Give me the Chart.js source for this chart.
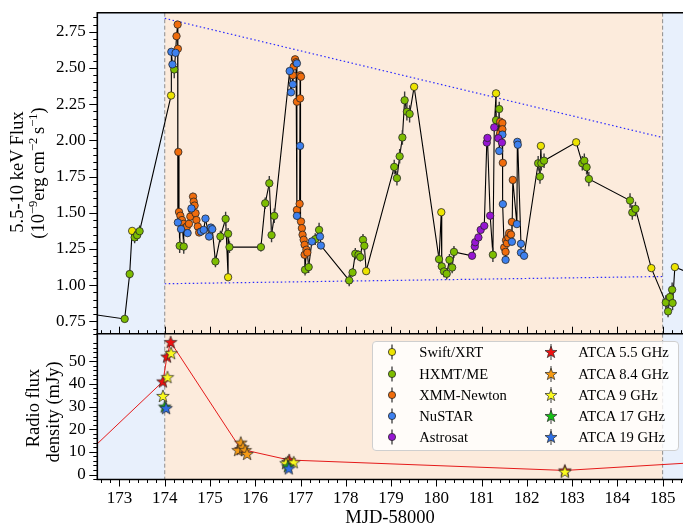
<!DOCTYPE html>
<html><head><meta charset="utf-8">
<script src="https://cdn.jsdelivr.net/npm/chart.js@4.4.1/dist/chart.umd.min.js"></script>
<style>
body{margin:0;background:#fff;}
#wrap{position:relative;width:683px;height:527px;overflow:hidden;font-family:"Liberation Serif","DejaVu Serif",serif;color:#000;}
canvas{position:absolute;left:0;}
#c1{top:0;width:683px;height:336px;}
#c2{top:333px;width:683px;height:194px;}
.yt{position:absolute;white-space:nowrap;transform:translate(-50%,-50%) rotate(-90deg);font-size:18.5px;line-height:1;}
.yt sup{font-size:0.68em;vertical-align:0.5em;line-height:0;}
#xt{position:absolute;left:390px;top:517px;transform:translate(-50%,-50%);font-size:18.5px;white-space:nowrap;}
#legend{position:absolute;left:372px;top:341px;width:305px;height:108px;border:1px solid #cfcfcf;border-radius:4px;background:rgba(255,255,255,0.82);z-index:2;}
.lg{position:absolute;font-size:14.6px;line-height:20px;white-space:nowrap;z-index:3;}
.lm{position:absolute;z-index:3;}
</style></head>
<body>
<div id="wrap">
 <canvas id="c1" width="683" height="336"></canvas>
 <canvas id="c2" width="683" height="194"></canvas>
 <div class="yt" style="left:17px;top:172px">5.5-10 keV Flux</div>
 <div class="yt" style="left:38px;top:173px">(10<sup>−9</sup>erg&#8201;cm<sup>−2</sup>&#8201;s<sup>−1</sup>)</div>
 <div class="yt" style="left:33px;top:408px">Radio flux</div>
 <div class="yt" style="left:53px;top:412px">density (mJy)</div>
 <div id="xt">MJD-58000</div>
 <div id="legend"></div>
</div>
<script>
// ---------------- data ----------------
const mjdTicks = [173,174,175,176,177,178,179,180,181,182,183,184,185];
const fluxTicks = [0.75,1.00,1.25,1.50,1.75,2.00,2.25,2.50,2.75];
const radioTicks = [0,10,20,30,40,50];
const phaseBounds = [174, 185];

const instrumentNames = ['Swift/XRT','HXMT/ME','XMM-Newton','NuSTAR','Astrosat'];
const instrumentColors = ['#ede400','#7dbd00','#f06c0c','#3d80ee','#9616d2'];
const radioNames = ['ATCA 5.5 GHz','ATCA 8.4 GHz','ATCA 9 GHz','ATCA 17 GHz','ATCA 19 GHz'];
const radioColors = ['#ee1010','#f59a14','#fafa1e','#16c016','#2f6fe6'];

// [MJD-58000, flux, error]
const swiftXRT = [
 [173.28,1.375],[174.14,2.31],[175.40,1.055],[178.45,1.097],[179.51,2.37],
 [180.11,1.504],[181.32,2.325],[182.31,1.962],[183.09,1.987],[184.75,1.118],[185.27,1.125]
];
const hxmtME = [
 [171.90,0.82,0.03],[173.115,0.767,0.02],[173.225,1.077,0.03],[173.335,1.33,0.04],[173.39,1.345,0.04],[173.445,1.373,0.04],
 [174.21,2.49,0.06],[174.33,1.272,0.05],[174.42,1.267,0.05],
 [175.12,1.164,0.04],[175.23,1.336,0.04],[175.345,1.458,0.05],[175.40,1.355,0.04],[175.43,1.263,0.04],
 [176.125,1.263,0.03],[176.22,1.566,0.04],[176.31,1.704,0.05],[176.36,1.346,0.05],[176.42,1.479,0.05],
 [177.10,1.107,0.04],[177.18,1.125,0.04],[177.325,1.318,0.04],[177.41,1.382,0.05],
 [178.075,1.033,0.04],[178.15,1.088,0.03],[178.21,1.217,0.04],[178.28,1.21,0.03],[178.32,1.194,0.03],[178.38,1.314,0.04],[178.41,1.272,0.04],
 [179.07,1.817,0.05],[179.13,1.739,0.05],[179.19,1.89,0.05],[179.25,2.02,0.05],[179.30,2.277,0.06],[179.35,2.198,0.06],[179.41,2.183,0.06],
 [180.06,1.18,0.04],[180.12,1.13,0.04],[180.17,1.095,0.04],[180.23,1.079,0.04],[180.29,1.175,0.04],[180.35,1.122,0.04],[180.39,1.23,0.04],
 [181.25,1.21,0.05],[181.32,2.14,0.05],[181.39,2.217,0.05],
 [182.25,1.842,0.05],[182.29,1.75,0.05],[182.32,1.842,0.05],[182.38,1.86,0.05],
 [183.225,1.842,0.05],[183.27,1.86,0.05],[183.32,1.815,0.05],[183.37,1.734,0.05],
 [184.28,1.585,0.05],[184.33,1.502,0.05],[184.40,1.527,0.05],
 [185.07,0.88,0.05],[185.12,0.819,0.04],[185.16,0.918,0.05],[185.21,0.969,0.05],[185.22,0.877,0.05],
 [185.70,1.07,0.04]
];
const xmmNewton = [
 [174.26,2.72],[174.285,2.80],[174.29,2.633],[174.30,1.92],
 [174.315,1.506],[174.345,1.48],[174.38,1.45],[174.42,1.424],[174.455,1.398],[174.49,1.405],[174.535,1.424],[174.565,1.474],
 [174.60,1.52],[174.625,1.612],[174.64,1.577],[174.66,1.55],[174.68,1.497],[174.70,1.45],[174.73,1.405],[174.76,1.364],
 [176.83,2.45],[176.85,2.51],[176.88,2.56],[176.90,2.54],[176.92,2.267],[176.99,2.45],[177.01,2.44],[176.99,2.29],
 [176.92,1.52],[176.98,1.562],[177.01,1.44],[177.03,1.394],[177.045,1.348],[177.07,1.314],[177.09,1.279],[177.09,1.21],[177.13,1.245],[177.15,1.225],
 [181.39,2.026],[181.41,2.05],[181.41,2.13],[181.46,2.12],[181.46,2.077],[181.47,1.845],
 [181.50,1.26],[181.53,1.23],[181.54,1.31],[181.56,1.29],[181.59,1.33],[181.61,1.36],[181.65,1.35],[181.67,1.437],[181.69,1.727]
];
const nuSTAR = [
 [174.146,2.612],[174.17,2.525],[174.24,2.605],[174.29,1.433],[174.36,1.387],[174.505,1.36],[174.59,1.53],
 [174.80,1.37],[174.86,1.382],[174.90,1.46],[174.98,1.336],[175.02,1.398],[175.05,1.387],
 [176.76,2.479],[176.79,2.332],[176.83,2.387],[176.92,2.532],[176.99,1.962],[176.92,1.479],[177.25,1.302],[177.43,1.336],[177.45,1.274],
 [181.39,1.927],[181.46,2.04],[181.47,1.56],[181.53,1.175],[181.67,1.30],[181.78,1.422],[181.79,1.99],[181.80,1.97],
 [181.87,1.286],[181.87,1.225],[181.94,1.203]
];
const astrosat = [
 [180.79,1.203],[180.85,1.267],[180.86,1.297],[180.93,1.33],[180.98,1.382],[181.06,1.41],
 [181.115,1.985],[181.13,2.017],[181.19,1.48],[181.28,2.09],[181.37,2.015],[181.45,1.985]
];
const upperEnvelope = [[174.0,2.843],[185.0,2.020]];
const lowerEnvelope = [[174.0,1.010],[185.0,1.060]];

// radio [MJD-58000, mJy]
const atca55 = [[171.9,2.0],[173.96,41.1],[174.05,52.1],[174.13,58.5],[175.68,11.2],[176.75,6.4],[182.84,1.8],[186.0,5.6]];
const atca84 = [[175.62,10.8],[175.68,14.1],[175.73,12.0],[175.78,10.8],[175.82,9.1],[176.72,5.6]];
const atca9  = [[173.96,34.7],[174.06,43.0],[174.14,53.6],[176.68,5.0],[176.85,5.4],[182.84,1.2]];
const atca17 = [[174.00,30.0],[176.72,3.6]];
const atca19 = [[174.03,29.3],[176.74,2.7]];

// ---------------- helpers ----------------
const FONT = "'Liberation Serif', 'DejaVu Serif', serif";
const xMin = 172.51, xMax = 185.45;
const toPts = arr => arr.map(p => ({x:p[0], y:p[1], e:p[2]}));

function starPoints(cx, cy, R, r){
  const pts=[];
  for(let k=0;k<10;k++){
    const ang=-Math.PI/2+k*Math.PI/5, rad=(k%2===0)?R:r;
    pts.push([cx+rad*Math.cos(ang), cy+rad*Math.sin(ang)]);
  }
  return pts;
}
function starCanvas(color){
  const s=16, c=document.createElement('canvas'); c.width=s; c.height=s;
  const g=c.getContext('2d'), p=starPoints(s/2,s/2+0.5,6.6,2.7);
  g.beginPath(); p.forEach((q,i)=> i?g.lineTo(q[0],q[1]):g.moveTo(q[0],q[1])); g.closePath();
  g.fillStyle=color; g.fill(); g.lineWidth=0.7; g.strokeStyle='#222'; g.stroke();
  return c;
}
function noPad(s){ s.paddingTop=0; s.paddingBottom=0; s.paddingLeft=0; s.paddingRight=0; }

function decorPlugin(cfg){
  return {
    id:'decor'+cfg.name,
    beforeDatasetsDraw(chart){
      const ctx=chart.ctx, a=chart.chartArea, xs=chart.scales.x;
      const p0=xs.getPixelForValue(phaseBounds[0]), p1=xs.getPixelForValue(phaseBounds[1]);
      ctx.save();
      ctx.fillStyle='#e8f0fc'; ctx.fillRect(a.left,a.top,a.width,a.height);
      ctx.fillStyle='#fcebdc'; ctx.fillRect(p0,a.top,p1-p0,a.height);
      ctx.strokeStyle='#8c8c8c'; ctx.lineWidth=1; ctx.setLineDash([4,2.5]);
      [p0,p1].forEach(px=>{ctx.beginPath();ctx.moveTo(px,a.top);ctx.lineTo(px,a.bottom);ctx.stroke();});
      ctx.restore();
    },
    beforeDatasetDraw(chart,args){
      const ds=chart.data.datasets[args.index];
      if(!ds.errorBars) return;
      const ctx=chart.ctx, xs=chart.scales.x, ys=chart.scales.y, a=chart.chartArea;
      ctx.save(); ctx.beginPath(); ctx.rect(a.left,a.top,a.width,a.height); ctx.clip();
      ctx.strokeStyle='#3a3a3a'; ctx.lineWidth=1.4;
      ds.data.forEach(p=>{ if(!p.e) return; const x=xs.getPixelForValue(p.x);
        ctx.beginPath(); ctx.moveTo(x,ys.getPixelForValue(p.y-p.e)); ctx.lineTo(x,ys.getPixelForValue(p.y+p.e)); ctx.stroke();});
      ctx.restore();
    },
    afterDraw(chart){
      const ctx=chart.ctx, a=chart.chartArea, xs=chart.scales.x, ys=chart.scales.y;
      ctx.save(); ctx.strokeStyle='#000'; ctx.lineWidth=1;
      for(let i=Math.ceil(xs.min*5);i<=Math.floor(xs.max*5);i++){
        const major=(i%5===0), len=major?7:3.5;
        const px=Math.round(xs.getPixelForValue(i/5))+0.5;
        ctx.beginPath(); ctx.moveTo(px,a.bottom);
        ctx.lineTo(px, cfg.xIn ? a.bottom-len : a.bottom+len); ctx.stroke();
      }
      for(let i=Math.ceil(ys.min/cfg.minor);i<=Math.floor(ys.max/cfg.minor);i++){
        const v=i*cfg.minor, major=cfg.majors.some(m=>Math.abs(m-v)<1e-6);
        if(!major && i%5===0) continue;
        const len=major?8:4, py=Math.round(ys.getPixelForValue(v))+0.5;
        ctx.beginPath(); ctx.moveTo(a.left,py); ctx.lineTo(a.left-len,py); ctx.stroke();
      }
      ctx.lineWidth=1.6;
      ctx.beginPath();
      ctx.moveTo(a.right+2,a.top); ctx.lineTo(a.left,a.top); ctx.lineTo(a.left,a.bottom); ctx.lineTo(a.right+2,a.bottom);
      ctx.stroke();
      ctx.restore();
    }
  };
}

function yScale(min,max,ticks,fmt){
  return {type:'linear',min,max,
    afterFit(s){s.width=97.3; noPad(s);},
    afterBuildTicks(s){s.ticks=ticks.map(v=>({value:v}));},
    grid:{display:false,drawTicks:false}, border:{display:false},
    ticks:{padding:11.5,font:{family:FONT,size:17},color:'#000',callback:fmt}};
}

// ---------------- top chart ----------------
const instData=[swiftXRT,hxmtME,xmmNewton,nuSTAR,astrosat];
const allXray = instData
  .flatMap(a=>a.map(p=>({x:p[0],y:p[1]})))
  .sort((p,q)=>p.x-q.x);

const xrayDatasets = instData.map((arr,i)=>({
  label:instrumentNames[i], data:toPts(arr), showLine:false, errorBars:true,
  pointRadius:3.7, pointBorderWidth:0.8, pointBorderColor:'#262626',
  pointBackgroundColor:instrumentColors[i], order:5-i, clip:0
}));

new Chart(document.getElementById('c1'),{
  type:'scatter',
  data:{datasets:[
    ...xrayDatasets,
    {label:'lc',data:allXray,showLine:true,borderColor:'#000',borderWidth:1.1,pointRadius:0,order:50,clip:0},
    {label:'up',data:toPts(upperEnvelope),showLine:true,borderColor:'#2b2bff',borderWidth:1.2,borderDash:[1.5,2.5],pointRadius:0,order:60,clip:0},
    {label:'lo',data:toPts(lowerEnvelope),showLine:true,borderColor:'#2b2bff',borderWidth:1.2,borderDash:[1.5,2.5],pointRadius:0,order:61,clip:0}
  ]},
  options:{
    responsive:false, devicePixelRatio:1, animation:false, events:[],
    layout:{autoPadding:false,padding:{top:12.7,bottom:2.3,left:0,right:0}},
    plugins:{legend:{display:false},tooltip:{enabled:false}},
    scales:{
      x:{type:'linear',min:xMin,max:xMax,display:false,afterFit:noPad},
      y:yScale(0.665,2.882,fluxTicks,v=>v.toFixed(2))
    }
  },
  plugins:[decorPlugin({name:'top',xIn:true,minor:0.05,majors:fluxTicks})]
});

// ---------------- bottom chart ----------------
const radioData=[atca55,atca84,atca9,atca17,atca19];
const radioDatasets=radioData.map((arr,i)=>({
  label:radioNames[i], data:toPts(arr), showLine:i===0,
  borderColor:'#e41a1a', borderWidth:1,
  pointStyle:starCanvas(radioColors[i]), pointRadius:7, order:5-i, clip:0
}));

new Chart(document.getElementById('c2'),{
  type:'scatter',
  data:{datasets:radioDatasets},
  options:{
    responsive:false, devicePixelRatio:1, animation:false, events:[],
    layout:{autoPadding:false,padding:{top:0.7,bottom:0,left:0,right:0}},
    plugins:{legend:{display:false},tooltip:{enabled:false}},
    scales:{
      x:{type:'linear',min:xMin,max:xMax,
        afterFit(s){s.height=47.5; noPad(s);},
        afterBuildTicks(s){s.ticks=mjdTicks.map(v=>({value:v}));},
        grid:{display:false,drawTicks:false}, border:{display:false},
        ticks:{padding:9.3,font:{family:FONT,size:17},color:'#000',maxRotation:0,autoSkip:false,callback:v=>String(v)}},
      y:yScale(-2.2,62.2,radioTicks,v=>String(v))
    }
  },
  plugins:[decorPlugin({name:'bot',xIn:false,minor:2,majors:radioTicks})]
});

// ---------------- legend (HTML) ----------------
const wrap=document.getElementById('wrap');
const rowsY=[352.3,374,395.3,416,437];
function addMarker(svg,cx,cy){
  const d=document.createElement('div'); d.className='lm';
  d.style.left=(cx-10)+'px'; d.style.top=(cy-10)+'px'; d.innerHTML=svg; wrap.appendChild(d);
}
function addText(t,x,cy){
  const d=document.createElement('div'); d.className='lg';
  d.style.left=x+'px'; d.style.top=(cy-10)+'px'; d.textContent=t; wrap.appendChild(d);
}
instrumentNames.forEach((n,i)=>{
  addMarker(`<svg width="20" height="20"><line x1="10" y1="2.5" x2="10" y2="17.5" stroke="#3a3a3a" stroke-width="1.3"/><circle cx="10" cy="10" r="3.6" fill="${instrumentColors[i]}" stroke="#262626" stroke-width="0.8"/></svg>`,392.3,rowsY[i]);
  addText(n,419.3,rowsY[i]);
});
radioNames.forEach((n,i)=>{
  const pts=starPoints(10,10.5,6.3,2.6).map(p=>p[0].toFixed(2)+','+p[1].toFixed(2)).join(' ');
  addMarker(`<svg width="20" height="20"><line x1="10" y1="2" x2="10" y2="18" stroke="#3a3a3a" stroke-width="1"/><polygon points="${pts}" fill="${radioColors[i]}" stroke="#222" stroke-width="0.7"/></svg>`,551,rowsY[i]);
  addText(n,578.3,rowsY[i]);
});
</script>
</body></html>
